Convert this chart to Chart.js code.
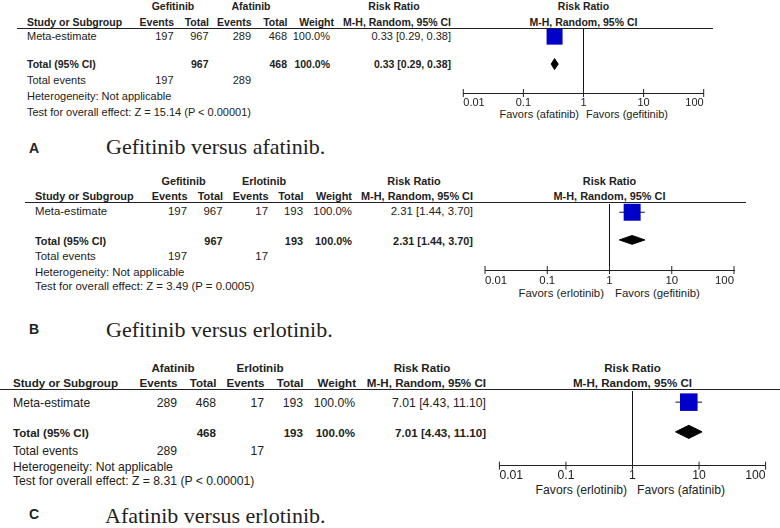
<!DOCTYPE html>
<html>
<head>
<meta charset="utf-8">
<script src="https://cdn.jsdelivr.net/npm/chart.js@4.4.1/dist/chart.umd.min.js"></script>
<style>
  body { margin: 0; background: #fff; }
  #page { position: relative; width: 780px; height: 528px; overflow: hidden;
          font-family: "Liberation Sans", Arial, sans-serif; color: #222; }
  .t { position: absolute; white-space: nowrap; line-height: 1; }
  .rule { position: absolute; height: 1px; background: #222; }
  canvas { position: absolute; }
</style>
</head>
<body>
<div id="page"></div>
<script>
const panelLetters = ['A', 'B', 'C'];
const captions = ['Gefitinib versus afatinib.', 'Gefitinib versus erlotinib.', 'Afatinib versus erlotinib.'];
const expGroups = ['Gefitinib', 'Gefitinib', 'Afatinib'];
const ctlGroups = ['Afatinib', 'Erlotinib', 'Erlotinib'];
const expEvents = [197, 197, 289];
const expTotals = [967, 967, 468];
const ctlEvents = [289, 17, 17];
const ctlTotals = [468, 193, 193];
const weights = [100.0, 100.0, 100.0];
const rrEstimates = [0.33, 2.31, 7.01];
const rrLower = [0.29, 1.44, 4.43];
const rrUpper = [0.38, 3.70, 11.10];
const zScores = [15.14, 3.49, 8.31];
const pLabels = ['P < 0.00001', 'P = 0.0005', 'P < 0.00001'];
const favorsLeft = ['Favors (afatinib)', 'Favors (erlotinib)', 'Favors (erlotinib)'];
const favorsRight = ['Favors (gefitinib)', 'Favors (gefitinib)', 'Favors (afatinib)'];
const xTicks = [0.01, 0.1, 1, 10, 100];

// page positions of each panel (layout only)
const layouts = [
  { fs: 11, fb: 10.5, h1: 6, h2: 22, lineY: 28, lineX0: 17, lineX1: 713,
    rows: [36, 63.5, 80, 96, 111.5], studyX: 27, cols: [173.5, 208.5, 251, 287],
    wtH: 334, wtV: 330, ciR: 451, expC: 173, ctlC: 251, rrC: 394,
    x0: 462, x1: 705, axisY: 93, yMin: 0.732, yMax: 3.054, sq: 11.3, dia: 0.2, tickPad: 4.5,
    favY: 114, favGap: [4.5, 2.5], capY: 148, capBase: 154, capX: 106 },
  { fs: 11.4, fb: 10.9, h1: 180.7, h2: 195.7, lineY: 202, lineX0: 25, lineX1: 746,
    rows: [212, 240.5, 257, 272.7, 286.7], studyX: 35, cols: [187, 222.5, 268, 303],
    wtH: 352, wtV: 352, ciR: 473, expC: 183.5, ctlC: 264, rrC: 414,
    x0: 483, x1: 736, axisY: 270, yMin: 0.702, yMax: 3.088, sq: 12, dia: 0.16, tickPad: 5,
    favY: 294, favGap: [5.5, 5.5], capY: 328.5, capBase: 337, capX: 106 },
  { fs: 12.2, fb: 11.6, h1: 367.7, h2: 383.3, lineY: 389.5, lineX0: 0, lineX1: 780,
    rows: [402.5, 432.7, 450.7, 466.7, 481], studyX: 13, cols: [177, 216, 264, 303],
    wtH: 356, wtV: 355, ciR: 486, expC: 173, ctlC: 260, rrC: 422,
    x0: 497, x1: 768, axisY: 465.7, yMin: 0.639, yMax: 3.138, sq: 12.4, dia: 0.22, tickPad: 3.9,
    favY: 490, favGap: [5.5, 4.5], capY: 514, capBase: 523, capX: 105 }
];

const page = document.getElementById('page');

function addText(str, x, y, o = {}) {
  const el = document.createElement('div');
  el.className = 't';
  el.textContent = str;
  const size = o.size || 11;
  el.style.fontSize = size + 'px';
  if (o.bold) el.style.fontWeight = 'bold';
  if (o.family) el.style.fontFamily = o.family;
  el.style.left = x + 'px';
  const tx = o.align === 'right' ? '-100%' : o.align === 'center' ? '-50%' : '0';
  if (o.baseline) {
    el.style.top = (y - 0.8375 * size) + 'px';
    el.style.transform = `translate(${tx}, 0)`;
  } else {
    el.style.top = y + 'px';
    el.style.transform = `translate(${tx}, -50%)`;
  }
  page.appendChild(el);
}

function addRule(x0, x1, y) {
  const el = document.createElement('div');
  el.className = 'rule';
  el.style.left = x0 + 'px';
  el.style.width = (x1 - x0) + 'px';
  el.style.top = Math.round(y - 0.5) + 'px';
  page.appendChild(el);
}

function ciText(i) {
  return `${rrEstimates[i].toFixed(2)} [${rrLower[i].toFixed(2)}, ${rrUpper[i].toFixed(2)}]`;
}

// tick marks crossing the axis line
const crossTicks = {
  id: 'crossTicks',
  afterDraw(chart) {
    const { ctx, chartArea } = chart;
    const x = chart.scales.x;
    ctx.save();
    ctx.strokeStyle = '#222';
    ctx.lineWidth = 1;
    x.ticks.forEach(t => {
      const px = x.getPixelForValue(t.value);
      ctx.beginPath();
      ctx.moveTo(px, chartArea.bottom - 4);
      ctx.lineTo(px, chartArea.bottom + 4);
      ctx.stroke();
    });
    ctx.restore();
  }
};

function drawForest(i) {
  const L = layouts[i];
  const canvasLeft = L.x0 - 10;
  const canvasTop = Math.floor(L.lineY - 10);
  const w = L.x1 + 10 - canvasLeft;
  const h = Math.ceil(L.axisY - canvasTop + 30);
  const axisH = h - (L.axisY - canvasTop);

  const cv = document.createElement('canvas');
  cv.width = w;
  cv.height = h;
  cv.style.left = canvasLeft + 'px';
  cv.style.top = canvasTop + 'px';
  cv.style.width = w + 'px';
  cv.style.height = h + 'px';
  page.appendChild(cv);

  const est = rrEstimates[i], lo = rrLower[i], hi = rrUpper[i];

  new Chart(cv.getContext('2d'), {
    type: 'scatter',
    data: {
      datasets: [
        {
          data: [{ x: est, y: 1 }],
          pointStyle: 'rect',
          pointRadius: L.sq,
          backgroundColor: '#0000c8',
          borderWidth: 0,
          clip: false,
        },
        {
          data: [{ x: lo, y: 1 }, { x: hi, y: 1 }],
          showLine: true,
          borderColor: '#111',
          borderWidth: 1,
          pointRadius: 0,
          clip: false,
        },
        {
          data: [
            { x: lo, y: 2 }, { x: est, y: 2 - L.dia }, { x: hi, y: 2 },
            { x: est, y: 2 + L.dia }, { x: lo, y: 2 },
          ],
          showLine: true,
          fill: 'shape',
          backgroundColor: '#000',
          borderColor: '#000',
          borderWidth: 1,
          pointRadius: 0,
          clip: false,
        },
        {
          data: [{ x: 1, y: L.yMin }, { x: 1, y: L.yMax }],
          showLine: true,
          borderColor: '#111',
          borderWidth: 1,
          pointRadius: 0,
          clip: false,
        },
      ],
    },
    options: {
      responsive: false,
      animation: false,
      events: [],
      layout: { padding: { left: L.x0 - canvasLeft, right: 10, top: L.lineY - canvasTop, bottom: 0 } },
      plugins: { legend: { display: false }, tooltip: { enabled: false } },
      scales: {
        x: {
          type: 'logarithmic',
          min: 0.01,
          max: 100,
          position: 'bottom',
          afterBuildTicks: s => { s.ticks = xTicks.map(v => ({ value: v })); },
          afterFit: s => { s.height = axisH; },
          grid: { display: false, drawTicks: false },
          border: { display: true, color: '#222', width: 1 },
          ticks: {
            align: 'inner',
            padding: L.tickPad,
            autoSkip: false,
            maxRotation: 0,
            color: '#222',
            font: { family: 'Liberation Sans', size: L.fs, lineHeight: 1 },
            callback: v => String(v),
          },
        },
        y: {
          type: 'linear',
          reverse: true,
          min: L.yMin,
          max: L.yMax,
          display: false,
        },
      },
    },
    plugins: [crossTicks],
  });
}

function drawPanel(i) {
  const L = layouts[i];
  const fs = L.fs, fb = L.fb;
  const xOne = (L.x0 + L.x1) / 2;
  const B = { size: fb, bold: true };

  // header
  addText(expGroups[i], L.expC, L.h1, { ...B, align: 'center' });
  addText(ctlGroups[i], L.ctlC, L.h1, { ...B, align: 'center' });
  addText('Risk Ratio', L.rrC, L.h1, { ...B, align: 'center' });
  addText('Risk Ratio', xOne, L.h1, { ...B, align: 'center' });
  addText('Study or Subgroup', L.studyX, L.h2, B);
  ['Events', 'Total', 'Events', 'Total'].forEach((lab, k) => {
    addText(lab, L.cols[k] + 0.5, L.h2, { ...B, align: 'right' });
  });
  addText('Weight', L.wtH, L.h2, { ...B, align: 'right' });
  addText('M-H, Random, 95% CI', L.ciR, L.h2, { ...B, align: 'right' });
  addText('M-H, Random, 95% CI', xOne, L.h2, { ...B, align: 'center' });
  addRule(L.lineX0, L.lineX1, L.lineY);

  // study row
  const R = { size: fs, align: 'right' };
  addText('Meta-estimate', L.studyX, L.rows[0], { size: fs });
  addText(String(expEvents[i]), L.cols[0], L.rows[0], R);
  addText(String(expTotals[i]), L.cols[1], L.rows[0], R);
  addText(String(ctlEvents[i]), L.cols[2], L.rows[0], R);
  addText(String(ctlTotals[i]), L.cols[3], L.rows[0], R);
  addText(weights[i].toFixed(1) + '%', L.wtV, L.rows[0], R);
  addText(ciText(i), L.ciR, L.rows[0], R);

  // total row
  const RB = { ...B, align: 'right' };
  addText('Total (95% CI)', L.studyX, L.rows[1], B);
  addText(String(expTotals[i]), L.cols[1], L.rows[1], RB);
  addText(String(ctlTotals[i]), L.cols[3], L.rows[1], RB);
  addText(weights[i].toFixed(1) + '%', L.wtV, L.rows[1], RB);
  addText(ciText(i), L.ciR, L.rows[1], RB);

  addText('Total events', L.studyX, L.rows[2], { size: fs });
  addText(String(expEvents[i]), L.cols[0], L.rows[2], R);
  addText(String(ctlEvents[i]), L.cols[2], L.rows[2], R);
  addText('Heterogeneity: Not applicable', L.studyX, L.rows[3], { size: fs });
  addText(`Test for overall effect: Z = ${zScores[i].toFixed(2)} (${pLabels[i]})`, L.studyX, L.rows[4], { size: fs });

  // favours labels
  addText(favorsLeft[i], xOne - L.favGap[0], L.favY, { size: fs, align: 'right' });
  addText(favorsRight[i], xOne + L.favGap[1], L.favY, { size: fs });

  // caption
  addText(panelLetters[i], 29, L.capY, { size: 14, bold: true });
  addText(captions[i], L.capX, L.capBase, { size: 22, family: '"Liberation Serif", "Times New Roman", serif', baseline: true });

  drawForest(i);
}

panelLetters.forEach((_, i) => drawPanel(i));
</script>
</body>
</html>
